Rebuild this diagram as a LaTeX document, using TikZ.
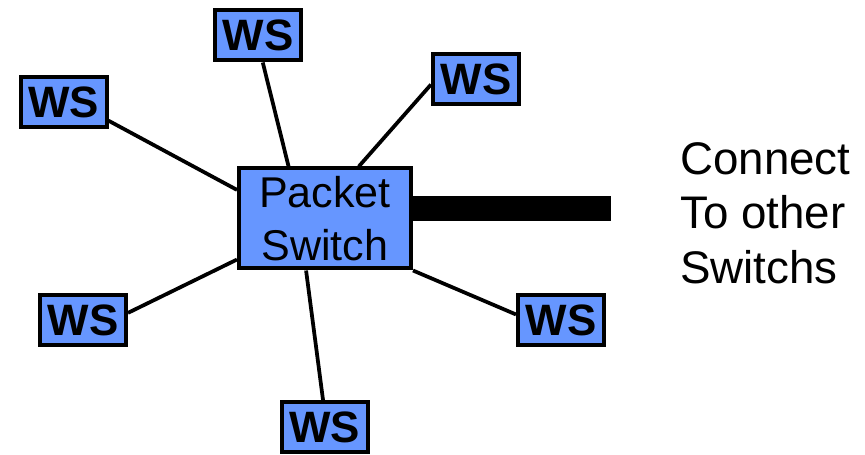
\documentclass[tikz,border=0pt]{standalone}
\usepackage{fontspec}
\setmainfont{Liberation Sans}
\usepackage{tikz}
\usetikzlibrary{positioning}
\usepackage{xcolor}
\definecolor{wsblue}{RGB}{102, 150, 255}

\begin{document}
\begin{tikzpicture}[
  station/.style={draw, line width=0.08cm, fill=wsblue, inner sep=0pt,
                  minimum width=1.72cm, minimum height=1.0cm,
                  font=\fontsize{25}{30}\selectfont\bfseries},
  hub/.style={draw, line width=0.08cm, fill=wsblue, inner sep=0pt,
              minimum width=3.44cm, minimum height=2.0cm, align=center,
              font=\fontsize{24.5}{30}\selectfont},
  note/.style={align=left, inner sep=0pt, font=\fontsize{26}{31}\selectfont},
  wire/.style={line width=0.075cm},
  trunk/.style={line width=0.5cm}
]
  \useasboundingbox (0,0) rectangle (17.3,9.1);

  \node[hub] (switch) at (6.5, 4.73) {Packet\\Switch};

  \node[station] (wsT)  at (5.16, 8.39) {WS};
  \node[station] (wsTR) at (9.52, 7.52) {WS};
  \node[station] (wsTL) at (1.27, 7.05) {WS};
  \node[station] (wsBL) at (1.66, 2.70) {WS};
  \node[station] (wsBR) at (11.22, 2.70) {WS};
  \node[station] (wsB)  at (6.49, 0.55) {WS};

  \coordinate (link) at (12.22, 4.93);
  \node[note, anchor=west] (label) at (13.6, 4.84) {Connect\\To other\\Switchs};

  \draw[wire] (wsT.-80) -- (switch.125);
  \draw[wire] (wsTR.187) -- (switch.57);
  \draw[wire] (wsTL.-22) -- (switch.162);
  \draw[wire] (wsBL.9) -- (switch.205);
  \draw[wire] (wsBR.173) -- (switch.south east);
  \draw[wire] (wsB.93) -- (switch.250);
  \draw[trunk] (switch.east |- link) -- (link);
\end{tikzpicture}
\end{document}
